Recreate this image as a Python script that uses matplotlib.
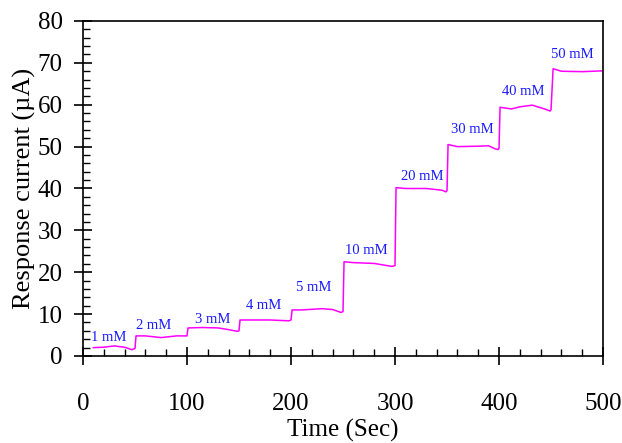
import matplotlib
matplotlib.use("Agg")
import matplotlib.pyplot as plt
from matplotlib.ticker import MultipleLocator

plt.rcParams['font.family'] = ['Liberation Serif', 'DejaVu Serif']

# amperometric response (time in s, current in uA)
time = [10, 20, 30, 40, 47, 50, 51, 60, 75, 90, 100, 101, 115, 130, 140, 148, 150,
        151, 165, 180, 198, 200, 201, 210, 230, 240, 248, 250, 251, 260, 280, 297, 300,
        301, 310, 330, 345, 349, 350, 351, 360, 380, 390, 396, 399, 400, 401, 412, 420,
        432, 445, 449, 450, 452, 460, 480, 500]
current = [2.0, 2.1, 2.4, 2.1, 1.5, 1.8, 4.8, 4.8, 4.4, 4.8, 4.8, 6.7, 6.8, 6.7, 6.3, 5.9, 6.0,
           8.6, 8.6, 8.6, 8.4, 8.6, 11.0, 11.0, 11.3, 11.1, 10.4, 10.6, 22.5, 22.3, 22.1, 21.4, 21.6,
           40.2, 40.0, 40.0, 39.6, 39.2, 39.5, 50.5, 50.0, 50.1, 50.2, 49.5, 49.3, 49.6, 59.4, 59.0, 59.5,
           59.9, 58.9, 58.5, 58.8, 68.6, 68.0, 67.9, 68.1]

# concentration labels and where they sit
conc_labels = ['1 mM', '2 mM', '3 mM', '4 mM', '5 mM', '10 mM', '20 mM', '30 mM', '40 mM', '50 mM']
label_x = [25, 68, 125, 174, 222, 272, 326, 374, 423, 470]
label_y = [4.4, 7.4, 8.8, 12.0, 16.3, 25.1, 42.8, 54.1, 63.1, 72.1]

fig = plt.figure(figsize=(6.22, 4.43), dpi=100)
ax = fig.add_axes([0.1334, 0.1964, 0.8361, 0.7562])

ax.plot(time, current, color='#ff00ff', lw=1.1)

for lab, x, y in zip(conc_labels, label_x, label_y):
    ax.text(x, y, lab, color='#1a1aff', fontsize=10.5, ha='center', va='center')

ax.set_xlim(0, 500)
ax.set_ylim(0, 80)
ax.xaxis.set_major_locator(MultipleLocator(100))
ax.xaxis.set_minor_locator(MultipleLocator(20))
ax.yaxis.set_major_locator(MultipleLocator(10))
ax.yaxis.set_minor_locator(MultipleLocator(2))

ax.tick_params(which='major', direction='inout', length=13, width=1.2, labelsize=18)
ax.tick_params(axis='x', which='major', pad=20)
ax.tick_params(axis='y', which='major', pad=8)
ax.tick_params(which='minor', direction='in', length=5, width=1.0)
for s in ax.spines.values():
    s.set_linewidth(1.2)

ax.set_xlabel('Time (Sec)', fontsize=18, labelpad=3)
ax.set_ylabel('Response current (\u00b5A)', fontsize=19, labelpad=1)

fig.savefig('out.png', dpi=100)
